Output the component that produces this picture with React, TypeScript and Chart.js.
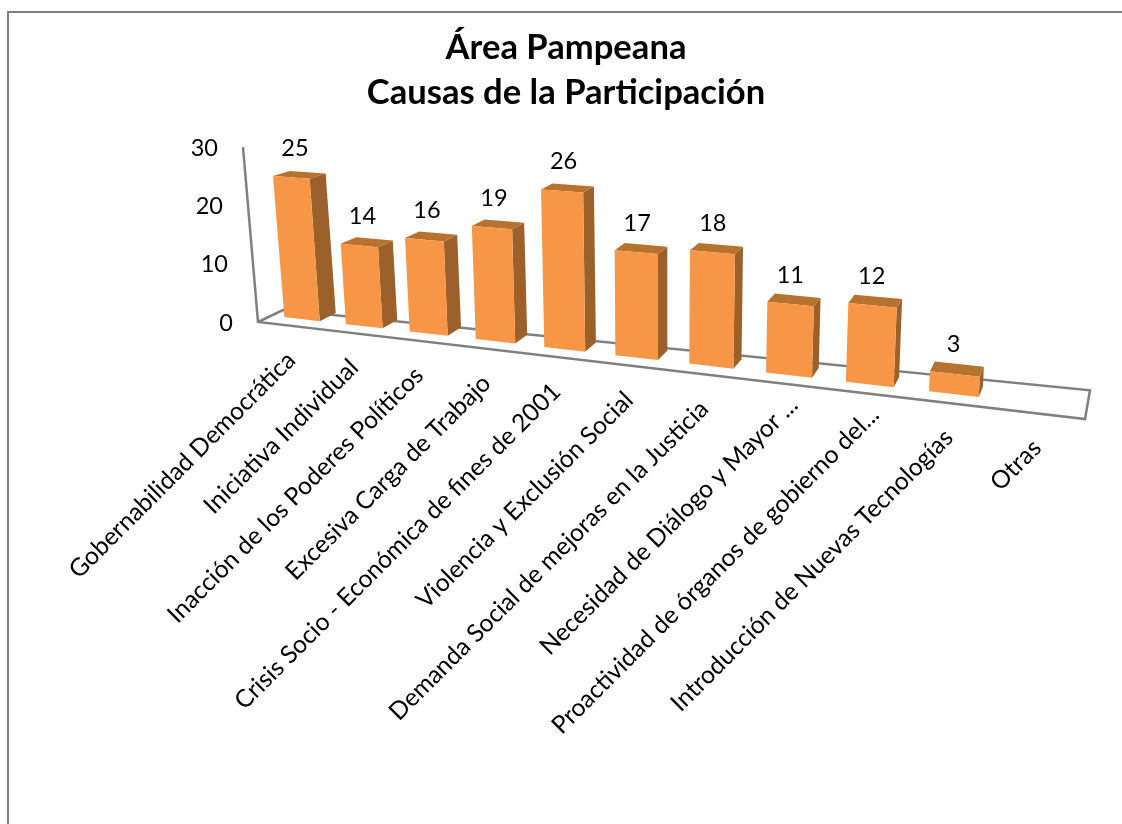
import React, { useEffect, useRef } from "react";
import { Chart, registerables } from "chart.js";

Chart.register(...registerables);

const titleLines = ["Área Pampeana", "Causas de la Participación"];
const categories = [
  "Gobernabilidad Democrática",
  "Iniciativa Individual",
  "Inacción de los Poderes Políticos",
  "Excesiva Carga de Trabajo",
  "Crisis Socio - Económica de fines de 2001",
  "Violencia y Exclusión Social",
  "Demanda Social de mejoras en la Justicia",
  "Necesidad de Diálogo y Mayor ...",
  "Proactividad de órganos de gobierno del...",
  "Introducción de Nuevas Tecnologías",
  "Otras",
];
const values = [25, 14, 16, 19, 26, 17, 18, 11, 12, 3, null];
const axisMax = 30;
const axisStep = 10;

const ORANGE = "#F79646";
const SIDE = "#9C602B";
const TOP = "#B8722F";
const LINE = "#808080";
const FONT = "Lato";

// Oblique view of the plot plane: u is the 0..1 position along the x scale, v the y value.
const W = (u: number) => 1 - 0.1893 * u;
const baseX = (u: number) => (271.7 + 609.2 * u) / W(u);
const baseY = (u: number) => 315.6 + 0.115 * (baseX(u) - 271.7);
const project = (u: number, v: number) => ({
  x: baseX(u) + (-0.47 + 0.9 * u) * v,
  y: baseY(u) - (v * 5.62) / W(u),
});
const depth = (u: number, v: number) => ({
  x: 17 - 14.5 * u,
  y: -(8 + 2.5 * u) + v * 0.12,
});
const floorFront = (u: number) => ({
  x: baseX(u) - 13.7 + 12.1 * u,
  y: baseY(u) + 6.4 + 3.3 * u,
});
const floorBack = (u: number) => ({
  x: baseX(u) + 11.3 - 7.9 * u,
  y: baseY(u) - 5.6 - 13.4 * u,
});

type P = { x: number; y: number };
const poly = (ctx: CanvasRenderingContext2D, pts: P[], fill: string) => {
  ctx.beginPath();
  pts.forEach((p, i) => (i ? ctx.lineTo(p.x, p.y) : ctx.moveTo(p.x, p.y)));
  ctx.closePath();
  ctx.fillStyle = fill;
  ctx.fill();
};
const add = (a: P, b: P) => ({ x: a.x + b.x, y: a.y + b.y });

const view3d = {
  id: "view3d",
  beforeDraw(chart: any) {
    const { ctx } = chart;
    ctx.save();
    ctx.fillStyle = "#ffffff";
    ctx.fillRect(0, 0, chart.width, chart.height);
    ctx.strokeStyle = LINE;
    ctx.lineWidth = 2;
    ctx.beginPath();
    ctx.moveTo(8, chart.height);
    ctx.lineTo(8, 12);
    ctx.lineTo(chart.width, 12);
    ctx.stroke();
    ctx.restore();
  },
  beforeDatasetsDraw(chart: any) {
    const { ctx, scales } = chart;
    const xs = scales.x;
    const ys = scales.y;
    const toU = (px: number) => (px - xs.left) / (xs.right - xs.left);

    ctx.save();
    // floor and value axis
    const fl = floorFront(0);
    const topAxis = { x: fl.x + ys.max * -0.5, y: fl.y - ys.max * 5.83 };
    ctx.strokeStyle = LINE;
    ctx.lineWidth = 2.5;
    ctx.beginPath();
    ctx.moveTo(topAxis.x, topAxis.y);
    ctx.lineTo(fl.x, fl.y);
    ctx.lineTo(floorFront(1).x, floorFront(1).y);
    ctx.lineTo(floorBack(1).x, floorBack(1).y);
    ctx.lineTo(floorBack(0).x, floorBack(0).y);
    ctx.lineTo(fl.x, fl.y);
    ctx.stroke();

    // value axis labels
    ctx.fillStyle = "#000000";
    ctx.font = `23.5px ${FONT}`;
    ctx.textAlign = "right";
    ctx.textBaseline = "middle";
    ys.ticks.forEach((t: any) => {
      ctx.fillText(String(t.value), fl.x - 0.5 * t.value - 25, fl.y - 5.83 * t.value + 1);
    });

    // bars
    const meta = chart.getDatasetMeta(0);
    meta.data.forEach((bar: any, i: number) => {
      const raw = chart.data.datasets[0].data[i];
      if (raw == null) return;
      const v = ys.getValueForPixel(bar.y);
      const uL = toU(bar.x - bar.width / 2);
      const uR = toU(bar.x + bar.width / 2);
      const bl = project(uL, 0);
      const br = project(uR, 0);
      const tl = project(uL, v);
      const tr = project(uR, v);
      const d0 = depth(uR, 0);
      const dv = depth(uR, v);
      poly(ctx, [br, tr, add(tr, dv), add(br, d0)], SIDE);
      poly(ctx, [tl, tr, add(tr, dv), add(tl, depth(uL, v))], TOP);
      poly(ctx, [bl, br, tr, tl], bar.options.backgroundColor);

      const uC = toU(bar.x);
      const c = project(uC, v);
      ctx.fillStyle = "#000000";
      ctx.textAlign = "center";
      ctx.textBaseline = "middle";
      ctx.fillText(String(raw), c.x + 4 - 6 * uC, c.y - 29);
    });

    // category labels
    ctx.font = `24.6px ${FONT}`;
    ctx.fillStyle = "#000000";
    ctx.textAlign = "right";
    ctx.textBaseline = "middle";
    xs.ticks.forEach((t: any, i: number) => {
      const u = toU(xs.getPixelForTick(i));
      const p = project(u, 0);
      const label = String(chart.data.labels[i]);
      const cut = label.endsWith("...");
      ctx.save();
      ctx.translate(p.x - 11 + 7 * u + (cut ? 11 : 0), p.y + 37 + 3 * u - (cut ? 13 : 0));
      ctx.rotate(-Math.PI / 4);
      ctx.fillText(label, 0, 0);
      ctx.restore();
    });
    ctx.restore();
    return false;
  },
};

export default function App() {
  const ref = useRef<HTMLCanvasElement>(null);
  useEffect(() => {
    const chart = new Chart(ref.current as HTMLCanvasElement, {
      type: "bar",
      data: {
        labels: categories,
        datasets: [
          {
            data: values,
            backgroundColor: ORANGE,
            barPercentage: 0.58,
            categoryPercentage: 1,
          },
        ],
      },
      options: {
        responsive: false,
        animation: false,
        layout: { padding: { left: 10 } },
        plugins: {
          legend: { display: false },
          tooltip: { enabled: false },
          title: {
            display: true,
            text: titleLines,
            color: "#000000",
            font: { family: FONT, weight: "bold", size: 34.6, lineHeight: 1.3 },
            padding: { top: 25, bottom: 10 },
          },
        },
        scales: {
          x: {
            grid: { display: false },
            border: { display: false },
            ticks: { display: false, autoSkip: false },
          },
          y: {
            min: 0,
            max: axisMax,
            grid: { display: false },
            border: { display: false },
            ticks: { display: false, stepSize: axisStep },
          },
        },
      },
      plugins: [view3d],
    } as any);
    return () => chart.destroy();
  }, []);
  return (
    <div style={{ position: "fixed", left: 0, top: 0, width: 1122, height: 824 }}>
      <canvas ref={ref} width={1122} height={824} style={{ display: "block" }} />
    </div>
  );
}
